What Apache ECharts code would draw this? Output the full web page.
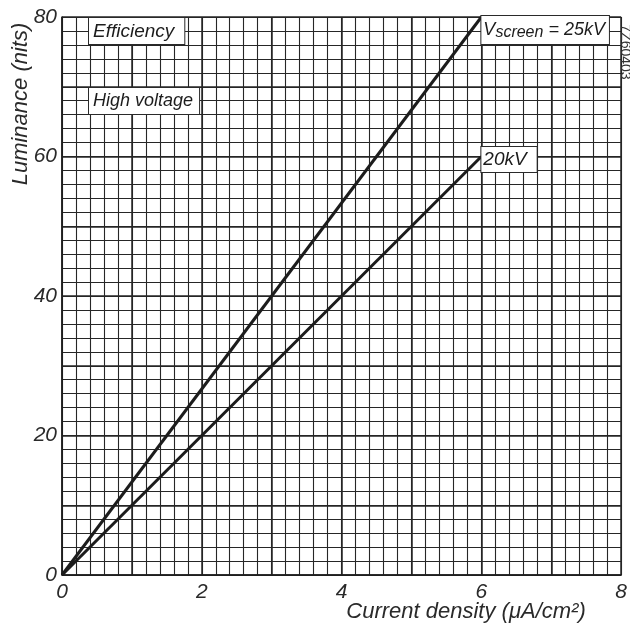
<!DOCTYPE html>
<html>
<head>
<meta charset="utf-8">
<script src="https://cdn.jsdelivr.net/npm/echarts@6/dist/echarts.min.js"></script>
<style>
  html, body { margin: 0; padding: 0; background: #fff; }
  #chart { width: 630px; height: 630px; }
</style>
</head>
<body>
<div id="chart"></div>
<script>
// values
var currentDensity = [0, 6];
var lum25kV = [0, 80];
var lum20kV = [0, 60];
var xTicks = [0, 2, 4, 6, 8];
var yTicks = [0, 20, 40, 60, 80];

var font = 'Liberation Sans';
var ink = '#1c1c1c';

var myChart = echarts.init(document.getElementById('chart'));

function pairs(xs, ys) {
	var out = [];
	for (var i = 0; i < xs.length; i++) out.push([xs[i], ys[i]]);
	return out;
}

// three x axes / three y axes: labelled one, fine grid, coarse grid
function gridAxis(min, max, interval, width, show) {
	return {
		type: 'value', min: min, max: max, interval: interval,
		axisLine: { show: false }, axisTick: { show: false },
		axisLabel: { show: false },
		splitLine: { show: show, lineStyle: { color: '#262626', width: width } }
	};
}

var option = {
	animation: false,
	backgroundColor: '#fff',
	grid: { left: 62, top: 17, right: 8, bottom: 55 },
	xAxis: [
		{
			type: 'value', min: 0, max: 8, interval: 2,
			axisLine: { show: true, lineStyle: { color: ink, width: 1.5 } },
			axisTick: { show: false },
			splitLine: { show: false },
			axisLabel: {
				margin: 7, color: '#2a2a2a', fontSize: 21, fontStyle: 'italic', fontFamily: font,
				formatter: function (v) { return xTicks.indexOf(v) >= 0 ? String(v) : ''; }
			}
		},
		gridAxis(0, 8, 0.2, 1.1, true),
		gridAxis(0, 8, 1, 1.5, true)
	],
	yAxis: [
		{
			type: 'value', min: 0, max: 80, interval: 20,
			axisLine: { show: true, lineStyle: { color: ink, width: 1.5 } },
			axisTick: { show: false },
			splitLine: { show: false },
			axisLabel: {
				margin: 5, color: '#2a2a2a', fontSize: 21, fontStyle: 'italic', fontFamily: font,
				formatter: function (v) { return yTicks.indexOf(v) >= 0 ? String(v) : ''; }
			}
		},
		gridAxis(0, 80, 2, 1.1, true),
		gridAxis(0, 80, 10, 1.5, true)
	],
	series: [
		{
			name: '25kV', type: 'line', data: pairs(currentDensity, lum25kV),
			showSymbol: false, z: 5,
			lineStyle: { color: ink, width: 3 },
			endLabel: {
				show: true, distance: 0, offset: [0, 13],
				backgroundColor: '#fff', borderColor: '#2a2a2a', borderWidth: 1,
				padding: [3, 4, 3, 2],
				formatter: '{v|V}{s|screen}{v| = 25kV}',
				rich: {
					v: { fontSize: 18, fontStyle: 'italic', fontFamily: font, color: ink },
					s: { fontSize: 16, fontStyle: 'italic', fontFamily: font, color: ink, padding: [6, 0, 0, 0] }
				}
			}
		},
		{
			name: '20kV', type: 'line', data: pairs(currentDensity, lum20kV),
			showSymbol: false, z: 5,
			lineStyle: { color: ink, width: 3 },
			endLabel: {
				show: true, distance: 0, offset: [0, 3],
				backgroundColor: '#fff', borderColor: '#2a2a2a', borderWidth: 1,
				padding: [3, 10, 3, 2],
				formatter: '20kV',
				fontSize: 19, fontStyle: 'italic', fontFamily: font, color: ink
			}
		}
	],
	graphic: [
		{
			type: 'text', left: 88, top: 17, z: 10,
			style: {
				text: 'Efficiency', fontSize: 19, fontStyle: 'italic', fontFamily: font, fill: ink,
				backgroundColor: '#fff', borderColor: '#2a2a2a', borderWidth: 1, padding: [4, 10, 3, 4]
			}
		},
		{
			type: 'text', left: 88, top: 87, z: 10,
			style: {
				text: 'High voltage', fontSize: 18, fontStyle: 'italic', fontFamily: font, fill: ink,
				backgroundColor: '#fff', borderColor: '#2a2a2a', borderWidth: 1, padding: [4, 6, 4, 4]
			}
		},
		{
			type: 'text', x: 21, y: 104, rotation: Math.PI / 2, z: 10,
			style: {
				text: 'Luminance (nits)', fontSize: 22, fontStyle: 'italic', fontFamily: font, fill: '#2a2a2a',
				align: 'center', verticalAlign: 'middle'
			}
		},
		{
			type: 'text', x: 466, y: 612, z: 10,
			style: {
				text: 'Current density (μA/cm²)', fontSize: 22, fontStyle: 'italic', fontFamily: font, fill: '#2a2a2a',
				align: 'center', verticalAlign: 'middle'
			}
		},
		{
			type: 'text', x: 625, y: 52, rotation: -Math.PI / 2, z: 10,
			style: {
				text: '7Z60403', fontSize: 14, fontFamily: font, fill: '#333',
				align: 'center', verticalAlign: 'middle'
			}
		}
	]
};

myChart.setOption(option);
</script>
</body>
</html>
